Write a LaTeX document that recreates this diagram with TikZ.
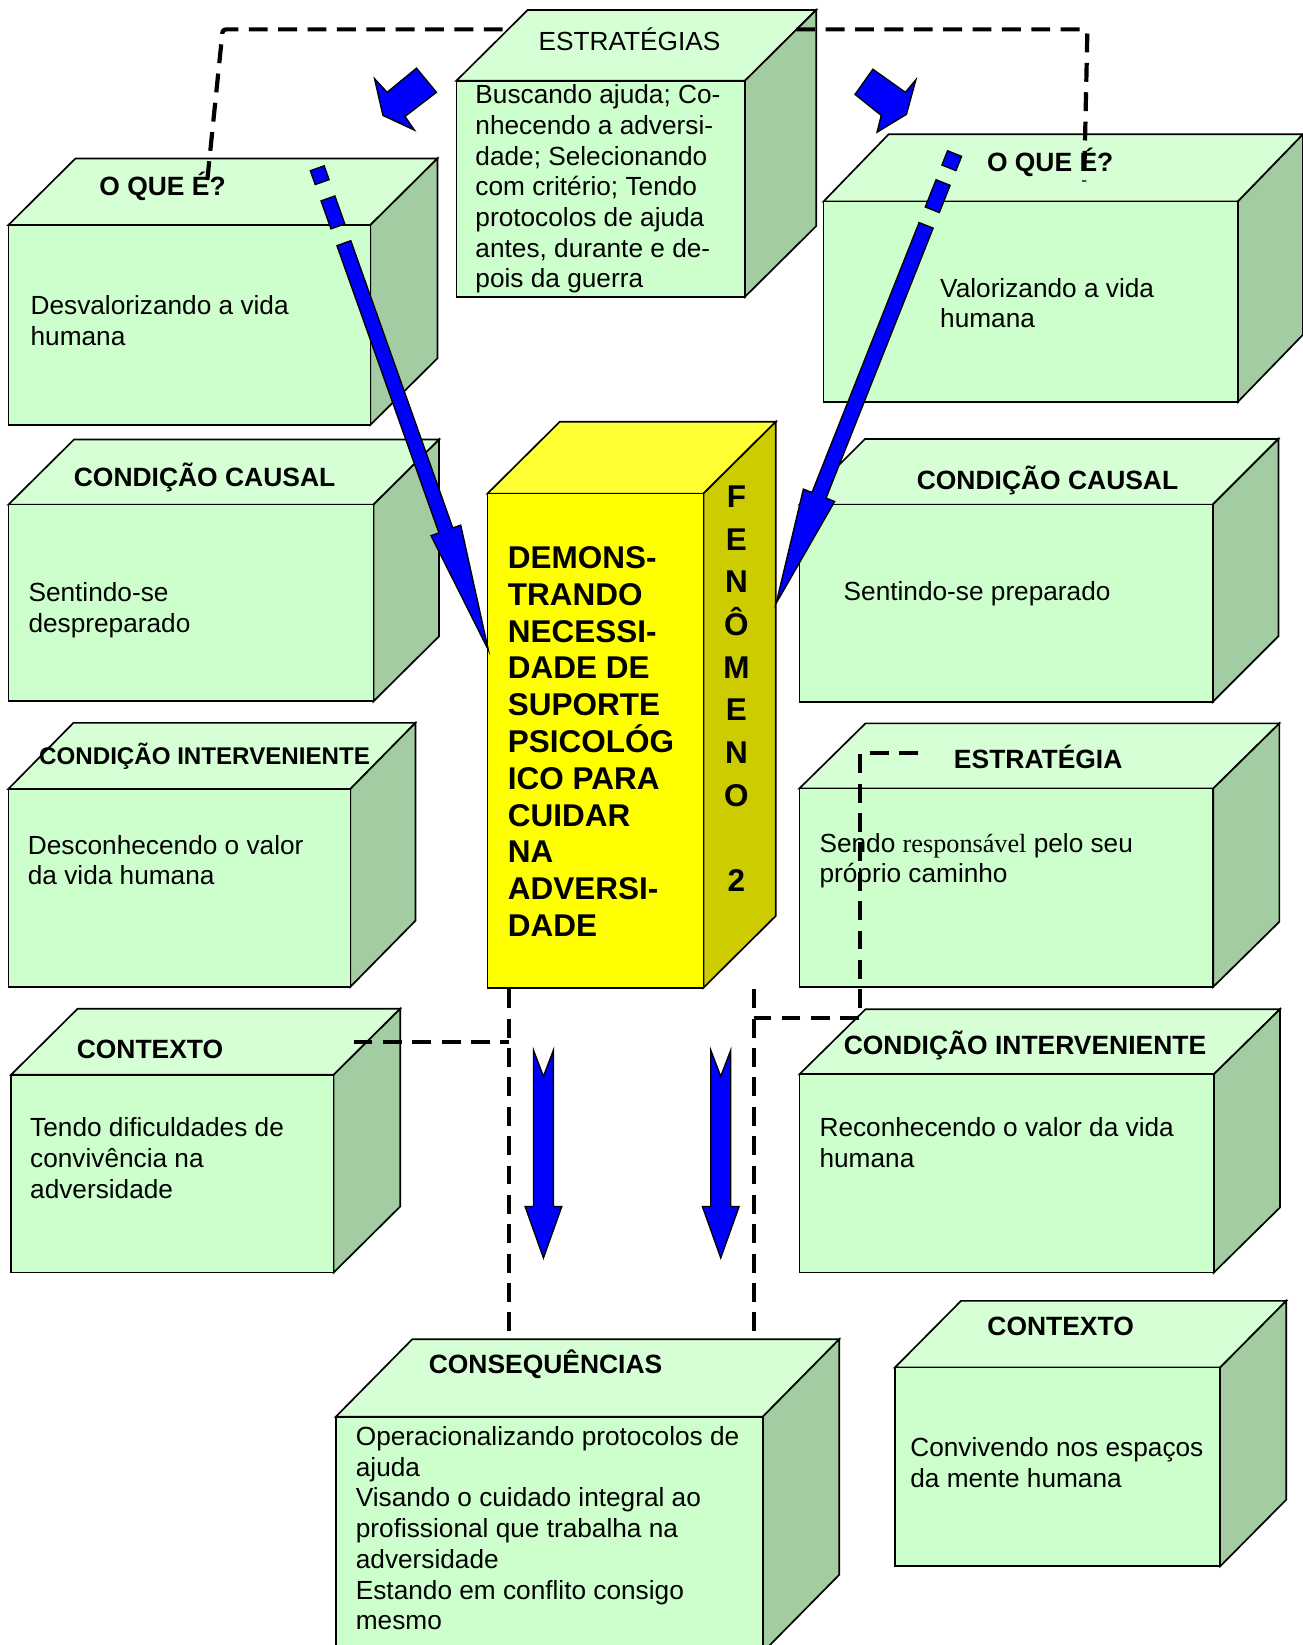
\documentclass[tikz,border=0pt]{standalone}
\usepackage{fontspec}
\setmainfont{Liberation Sans}
\newfontfamily\timesfont{Liberation Serif}
\usetikzlibrary{calc,fit}

\definecolor{greenfront}{RGB}{204,255,204}
\definecolor{greentop}{RGB}{214,255,214}
\definecolor{greenside}{RGB}{163,204,163}
\definecolor{yellowfront}{RGB}{255,255,0}
\definecolor{yellowtop}{RGB}{255,255,51}
\definecolor{yellowside}{RGB}{204,204,0}
\definecolor{arrowblue}{RGB}{0,0,255}

\newcommand\bodyfont{\fontsize{25}{29.3}\selectfont}
\newcommand\lblfont{\fontsize{25.2}{30}\selectfont\bfseries}
\newcommand\phenfont{\fontsize{30}{35.1}\selectfont\bfseries}

% 3-D box: name, front top-left (x,y), front bottom-right (x,y), depth (dx,dy), colour scheme
\newcommand\drawcube[8]{%
  \filldraw[edge, fill=#8top] (#2,#3) -- (#2+#6,#3-#7) -- (#4+#6,#3-#7) -- (#4,#3) -- cycle;
  \filldraw[edge, fill=#8side] (#4,#3) -- (#4+#6,#3-#7) -- (#4+#6,#5-#7) -- (#4,#5) -- cycle;
  \node[edge, fill=#8front, inner sep=0pt, outer sep=0pt, fit={(#2,#3) (#4,#5)}] (#1) {};
}

% straight piece of a block arrow lying on the axis #1 -> #2, from distance #3 to #4, half width #5
\newcommand\blueshaft[5]{%
  \coordinate (ap1) at ($(#1)!#3!(#2)$);
  \coordinate (ap2) at ($(#1)!#4!(#2)$);
  \filldraw[blockarrow] ($(ap1)!#5!90:(#2)$) -- ($(ap2)!#5!90:(#2)$) -- ($(ap2)!#5!-90:(#2)$) -- ($(ap1)!#5!-90:(#2)$) -- cycle;
}
% shaft plus head: axis start, tip, shaft start, head length, shaft half width, head half width
\newcommand\bluehead[6]{%
  \coordinate (ah1) at ($(#1)!#3!(#2)$);
  \coordinate (ah2) at ($(#2)!#4!(#1)$);
  \filldraw[blockarrow] ($(ah1)!#5!90:(#2)$) -- ($(ah2)!#5!90:(#2)$) -- ($(ah2)!#6!90:(#2)$) -- (#2) -- ($(ah2)!#6!-90:(#2)$) -- ($(ah2)!#5!-90:(#2)$) -- ($(ah1)!#5!-90:(#2)$) -- cycle;
}
% vertical block arrow with a notched tail, centred on x = #1
\newcommand\droparrow[1]{%
  \filldraw[blockarrow] (#1-9.5,1001) -- (#1,1026) -- (#1+9.5,1001) -- (#1+9.5,1150) -- (#1+17.5,1150) -- (#1,1199) -- (#1-17.5,1150) -- (#1-9.5,1150) -- cycle;
}

\begin{document}
\begin{tikzpicture}[x=1pt, y=-1pt,
  edge/.style={draw=black, line width=1.6pt, line join=miter},
  boxtext/.style={anchor=north west, inner sep=0pt, align=left, font=\bodyfont},
  boxlabel/.style={anchor=base, inner sep=0pt, font=\lblfont},
  link/.style={draw=black, line width=4pt, dash pattern=on 18pt off 10pt},
  blockarrow/.style={fill=arrowblue, draw=black, line width=1.3pt, line join=miter}]

\useasboundingbox (0,0) rectangle (1242,1568);
\clip (0,0) rectangle (1242,1568);
\fill[white] (0,0) rectangle (1242,1568);

% ---- boxes ----
\drawcube{qA}{8}{214.5}{353}{405}{64}{63.5}{green}
\drawcube{qC}{785}{192}{1180}{383}{62}{64}{green}
\drawcube{qD}{8}{481}{356}{668.5}{62.5}{62}{green}
\drawcube{qE}{762}{481}{1156}{669}{62.6}{62.6}{green}
\drawcube{qF}{8}{752}{334}{940.6}{62}{63}{green}
\drawcube{qG}{762}{751.5}{1156.5}{940.6}{63}{62}{green}
\drawcube{qH}{10.5}{1024.5}{318}{1213}{63.5}{63}{green}
\drawcube{qI}{762}{1024}{1157}{1213}{63}{62}{green}
\drawcube{qJ}{320}{1350.5}{727}{1575}{73}{74}{green}
\drawcube{qK}{853}{1303.5}{1163}{1493}{63}{63.5}{green}
\drawcube{qB}{435}{77}{710}{283}{68}{67.5}{green}
\drawcube{qY}{464.6}{470.5}{670.5}{941.5}{69}{68.5}{yellow}

% ---- titles ----
\node[boxlabel] (qA-title) at (155,186) {O QUE É?};
\node[boxlabel, font=\bodyfont] (qB-title) at (600,47.7) {ESTRATÉGIAS};
\node[boxlabel] (qC-title) at (1001,163.7) {O QUE É?};
\node[boxlabel] (qD-title) at (195,464) {CONDIÇÃO CAUSAL};
\node[boxlabel] (qE-title) at (998.5,466.5) {CONDIÇÃO CAUSAL};
\node[boxlabel, font=\fontsize{23}{28}\selectfont\bfseries] (qF-title) at (195,729) {CONDIÇÃO INTERVENIENTE};
\node[boxlabel] (qG-title) at (989.6,732.5) {ESTRATÉGIA};
\node[boxlabel] (qH-title) at (143,1009.4) {CONTEXTO};
\node[boxlabel] (qI-title) at (977,1005) {CONDIÇÃO INTERVENIENTE};
\node[boxlabel] (qJ-title) at (520,1309) {CONSEQUÊNCIAS};
\node[boxlabel] (qK-title) at (1011,1273) {CONTEXTO};

% ---- texts ----
\node[boxtext] (qA-text) at (29,279.5) {\strut Desvalorizando a vida\\humana};
\node[boxtext] (qB-text) at (453,78) {\strut Buscando ajuda; Co-\\nhecendo a adversi-\\dade; Selecionando\\com critério; Tendo\\protocolos de ajuda\\antes, durante e de-\\pois da guerra};
\node[boxtext] (qC-text) at (896,262.5) {\strut Valorizando a vida\\humana};
\node[boxtext] (qD-text) at (27,552.5) {\strut Sentindo-se\\despreparado};
\node[boxtext] (qE-text) at (804,551.5) {\strut Sentindo-se preparado};
\node[boxtext] (qF-text) at (26.4,793.5) {\strut Desconhecendo o valor\\da vida humana};
\node[boxtext] (qG-text) at (781,791.5) {\strut Sendo {\timesfont responsável} pelo seu\\próprio caminho};
\node[boxtext] (qH-text) at (28.6,1063) {\strut Tendo dificuldades de\\convivência na\\adversidade};
\node[boxtext] (qI-text) at (781,1062.5) {\strut Reconhecendo o valor da vida\\humana};
\node[boxtext] (qJ-text) at (339,1357) {\strut Operacionalizando protocolos de\\ajuda\\Visando o cuidado integral ao\\profissional que trabalha na\\adversidade\\Estando em conflito consigo\\mesmo};
\node[boxtext] (qK-text) at (867.5,1368) {\strut Convivendo nos espaços\\da mente humana};

\node[boxtext, font=\phenfont] (qY-text) at (484,517) {\strut DEMONS-\\TRANDO\\NECESSI-\\DADE DE\\SUPORTE\\PSICOLÓG\\ICO PARA\\CUIDAR\\NA\\ADVERSI-\\DADE};
\node[anchor=north, inner sep=0pt, align=center, font=\fontsize{30}{40.7}\selectfont\bfseries] (qY-side) at (702,455)
  {\strut F\\E\\N\\Ô\\M\\E\\N\\O\\[40.7pt]2};

% ---- dashed links ----
\coordinate (tl0) at (197.6,171.6);
\coordinate (tl1) at (212.3,28);
\coordinate (tl2) at (484,28);
\coordinate (tr0) at (759,28);
\coordinate (tr1) at (1036.5,28);
\coordinate (tr2) at (1033.4,173.2);
\draw[link, rounded corners=3pt] (tl0) -- (tl1) -- (tl2);
\draw[link, rounded corners=3pt] (tr0) -- (tr1) -- (tr2);

\coordinate (bl0) at (337,993);
\coordinate (bl1) at (485,993);
\coordinate (bl2) at (485,943);
\coordinate (bl3) at (485,1275);
\draw[link] (bl0) -- (bl1);
\draw[link] (bl2) -- (bl3);

\coordinate (br0) at (875,718);
\coordinate (br1) at (820,718);
\coordinate (br2) at (820,970);
\coordinate (br3) at (719,970);
\coordinate (br4) at (719,943);
\coordinate (br5) at (719,1272);
\draw[link] (br0) -- (br1) -- (br2) -- (br3);
\draw[link] (br4) -- (br5);

% ---- blue arrows ----
\coordinate (lA) at (302.4,160.4);
\coordinate (lB) at (465.5,619.6);
\blueshaft{lA}{lB}{0pt}{14pt}{7pt}
\blueshaft{lA}{lB}{30.5pt}{58.8pt}{7pt}
\bluehead{lA}{lB}{75.8pt}{121pt}{7pt}{15pt}

\coordinate (rA) at (909.9,146.4);
\coordinate (rB) at (739.8,575.1);
\blueshaft{rA}{rB}{0pt}{14.6pt}{7.2pt}
\blueshaft{rA}{rB}{29.7pt}{57.6pt}{7.2pt}
\bluehead{rA}{rB}{73.6pt}{110.8pt}{7.2pt}{16pt}

\filldraw[blockarrow] (397,65) -- (416,88) -- (386,111) -- (395,124) -- (365,110) -- (357,75) -- (369,88) -- cycle;
\filldraw[blockarrow] (832,66) -- (815,90) -- (840,110) -- (836,126) -- (864,109) -- (873,76) -- (863,88) -- cycle;

\droparrow{518}
\droparrow{687}

\end{tikzpicture}
\end{document}
